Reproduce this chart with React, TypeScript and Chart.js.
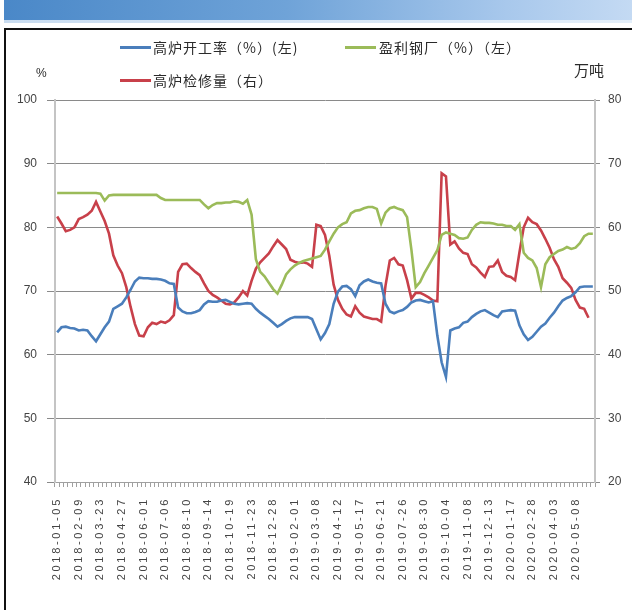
import React, { useEffect, useRef } from "react";
import { Chart, registerables } from "chart.js";

Chart.register(...registerables);

const dates: string[] = [
  "2018-01-05","2018-01-12","2018-01-19","2018-01-26","2018-02-02","2018-02-09","2018-02-23","2018-03-02","2018-03-09","2018-03-16",
  "2018-03-23","2018-03-30","2018-04-06","2018-04-13","2018-04-20","2018-04-27","2018-05-04","2018-05-11","2018-05-18","2018-05-25",
  "2018-06-01","2018-06-08","2018-06-15","2018-06-22","2018-06-29","2018-07-06","2018-07-13","2018-07-20","2018-07-27","2018-08-03",
  "2018-08-10","2018-08-17","2018-08-24","2018-08-31","2018-09-07","2018-09-14","2018-09-21","2018-09-28","2018-10-05","2018-10-12",
  "2018-10-19","2018-10-26","2018-11-02","2018-11-09","2018-11-16","2018-11-23","2018-11-30","2018-12-07","2018-12-14","2018-12-21",
  "2018-12-28","2019-01-04","2019-01-11","2019-01-18","2019-01-25","2019-02-01","2019-02-08","2019-02-15","2019-02-22","2019-03-01",
  "2019-03-08","2019-03-15","2019-03-22","2019-03-29","2019-04-05","2019-04-12","2019-04-19","2019-04-26","2019-05-03","2019-05-10",
  "2019-05-17","2019-05-24","2019-05-31","2019-06-07","2019-06-14","2019-06-21","2019-06-28","2019-07-05","2019-07-12","2019-07-19",
  "2019-07-26","2019-08-02","2019-08-09","2019-08-16","2019-08-23","2019-08-30","2019-09-06","2019-09-13","2019-09-20","2019-09-27",
  "2019-10-04","2019-10-11","2019-10-18","2019-10-25","2019-11-01","2019-11-08","2019-11-15","2019-11-22","2019-11-29","2019-12-06",
  "2019-12-13","2019-12-20","2019-12-27","2020-01-03","2020-01-10","2020-01-17","2020-01-31","2020-02-07","2020-02-14","2020-02-21",
  "2020-02-28","2020-03-06","2020-03-13","2020-03-20","2020-03-27","2020-04-03","2020-04-10","2020-04-17","2020-04-24","2020-05-01",
  "2020-05-08","2020-05-15","2020-05-22","2020-05-29","2020-06-05"
];

// 高炉开工率（%）(左)
const blastRate: (number | null)[] = [
  63.5,64.3,64.4,64.2,64.1,63.8,63.9,63.8,62.9,62.1,
  63.2,64.3,65.2,67.2,67.6,68.0,69.0,70.2,71.5,72.1,
  72.0,72.0,71.9,71.9,71.8,71.6,71.2,71.1,67.4,66.8,
  66.5,66.5,66.7,67.0,67.9,68.4,68.3,68.3,68.5,68.6,
  68.3,68.0,67.9,68.0,68.1,68.0,67.2,66.6,66.1,65.6,
  65.0,64.4,64.8,65.3,65.7,65.9,65.9,65.9,65.9,65.6,
  64.0,62.4,63.4,64.8,68.0,69.9,70.7,70.8,70.3,69.2,
  70.9,71.5,71.8,71.5,71.3,71.2,68.0,66.8,66.5,66.8,
  67.0,67.5,68.2,68.5,68.6,68.4,68.2,68.4,63.0,58.8,
  56.5,63.8,64.1,64.3,65.0,65.2,65.9,66.4,66.8,67.0,
  66.6,66.2,65.9,66.8,66.9,67.0,66.9,64.6,63.2,62.3,
  62.8,63.6,64.4,64.9,65.8,66.6,67.6,68.5,68.9,69.2,
  69.8,70.6,70.7,70.7,70.7
];

// 盈利钢厂（%）（左）
const profitMills: (number | null)[] = [
  85.4,85.4,85.4,85.4,85.4,85.4,85.4,85.4,85.4,85.4,
  85.3,84.2,85.0,85.1,85.1,85.1,85.1,85.1,85.1,85.1,
  85.1,85.1,85.1,85.1,84.6,84.3,84.3,84.3,84.3,84.3,
  84.3,84.3,84.3,84.3,83.6,83.0,83.5,83.8,83.8,83.9,
  83.9,84.1,84.0,83.7,84.3,82.0,75.0,73.0,72.3,71.3,
  70.3,69.6,71.0,72.6,73.4,74.0,74.4,74.7,74.9,75.1,
  75.3,75.5,76.5,77.8,79.0,80.0,80.5,80.8,82.2,82.6,
  82.7,83.0,83.2,83.2,82.9,80.6,82.3,83.0,83.2,82.9,
  82.7,81.6,76.5,70.6,71.4,72.8,74.0,75.2,76.4,78.8,
  79.2,79.0,78.8,78.3,78.2,78.4,79.6,80.4,80.8,80.7,
  80.7,80.6,80.4,80.4,80.2,80.2,79.6,80.5,76.0,75.2,
  74.8,73.6,70.6,74.2,75.3,75.8,76.3,76.5,76.9,76.6,
  76.8,77.5,78.6,79.0,79.0
];

// 高炉检修量（右），万吨
const maintenance: (number | null)[] = [
  61.7,60.6,59.4,59.6,60.0,61.3,61.6,62.0,62.6,64.0,
  62.5,61.0,59.0,55.6,54.0,52.8,50.6,47.5,44.8,43.0,
  42.9,44.3,45.0,44.8,45.2,45.0,45.4,46.2,53.0,54.2,
  54.3,53.6,53.0,52.5,51.2,50.0,49.4,49.0,48.5,48.0,
  47.9,48.2,49.0,50.0,49.3,51.6,53.5,54.5,55.2,55.9,
  57.0,58.0,57.3,56.6,54.9,54.6,54.4,54.5,54.3,53.8,
  60.4,60.2,58.8,55.5,51.0,48.6,47.2,46.3,46.0,47.6,
  46.6,46.0,45.8,45.6,45.6,45.2,50.8,54.8,55.2,54.2,
  54.0,51.7,48.8,49.7,49.7,49.4,49.0,48.5,48.4,68.5,
  68.0,57.3,57.8,56.7,56.0,55.8,54.2,53.7,52.9,52.2,
  53.8,53.9,54.8,53.0,52.4,52.2,51.7,56.0,60.0,61.5,
  60.8,60.5,59.5,58.2,56.8,55.0,53.8,52.0,51.3,50.5,
  48.6,47.4,47.2,45.8,null
];

const leftTicks = [40, 50, 60, 70, 80, 90, 100];
const rightTicks = [20, 30, 40, 50, 60, 70, 80];

const seriesNames = ["高炉开工率（%）(左)", "盈利钢厂（%）（左）", "高炉检修量（右）"];
const seriesColors = ["#4a7ebb", "#9bbb59", "#c8404a"];

const xLabelSpacing = {
  id: "xLabelSpacing",
  beforeDraw(chart: any) {
    const s: any = chart.scales.x;
    if (s && !s.__patched) {
      const orig = s.drawLabels;
      s.drawLabels = function (area: any) {
        const ctx = this.ctx;
        ctx.save();
        (ctx as any).letterSpacing = "2.7px";
        orig.call(this, area);
        ctx.restore();
      };
      s.__patched = true;
    }
  },
};

export default function App() {
  const ref = useRef<HTMLCanvasElement | null>(null);

  useEffect(() => {
    if (!ref.current) return;
    const chart = new Chart(ref.current, {
      type: "line",
      data: {
        labels: dates,
        datasets: [
          {
            label: seriesNames[0],
            data: blastRate,
            borderColor: seriesColors[0],
            backgroundColor: seriesColors[0],
            borderWidth: 2.6,
            pointRadius: 0,
            yAxisID: "y",
          },
          {
            label: seriesNames[1],
            data: profitMills,
            borderColor: seriesColors[1],
            backgroundColor: seriesColors[1],
            borderWidth: 2.6,
            pointRadius: 0,
            yAxisID: "y",
          },
          {
            label: seriesNames[2],
            data: maintenance,
            borderColor: seriesColors[2],
            backgroundColor: seriesColors[2],
            borderWidth: 2.6,
            pointRadius: 0,
            yAxisID: "y1",
          },
        ],
      },
      options: {
        animation: false,
        responsive: false,
        maintainAspectRatio: false,
        layout: { padding: { top: 100, left: 0, right: 0, bottom: 0 } },
        plugins: { legend: { display: false }, tooltip: { enabled: false } },
        scales: {
          x: {
            type: "category",
            offset: true,
            grid: {
              display: true,
              offset: true,
              drawOnChartArea: false,
              tickLength: 5,
              color: "#a0a0a0",
            },
            border: { display: true, color: "#a0a0a0", width: 1 },
            ticks: {
              autoSkip: false,
              maxRotation: 90,
              minRotation: 90,
              padding: 10,
              color: "#444",
              font: { size: 11, family: "'Liberation Sans', Arial, sans-serif" },
              callback: (_v: any, i: number) => (i % 5 === 0 ? dates[i] : ""),
            },
            afterFit: (s: any) => {
              s.height = 128;
            },
          },
          y: {
            position: "left",
            min: 40,
            max: 100,
            afterBuildTicks: (s: any) => {
              s.ticks = leftTicks.map((v) => ({ value: v }));
            },
            grid: { color: "#8a8a8a", lineWidth: 1, tickLength: 8 },
            border: { display: true, color: "#c4c4c4", width: 2 },
            ticks: {
              padding: 10,
              color: "#444",
              font: { size: 12, family: "'Liberation Sans', Arial, sans-serif" },
            },
            afterFit: (s: any) => {
              s.width = 55;
            },
          },
          y1: {
            position: "right",
            min: 20,
            max: 80,
            afterBuildTicks: (s: any) => {
              s.ticks = rightTicks.map((v) => ({ value: v }));
            },
            grid: { drawOnChartArea: false, color: "#8a8a8a", tickLength: 5 },
            border: { display: true, color: "#c4c4c4", width: 2 },
            ticks: {
              padding: 8,
              color: "#444",
              font: { size: 12, family: "'Liberation Sans', Arial, sans-serif" },
            },
            afterFit: (s: any) => {
              s.width = 37;
            },
          },
        },
      },
      plugins: [xLabelSpacing],
    });
    return () => chart.destroy();
  }, []);

  const cjk = "'Noto Sans CJK SC', 'Noto Sans', sans-serif";
  const legendText: React.CSSProperties = {
    position: "absolute",
    fontFamily: cjk,
    fontSize: 14,
    letterSpacing: 1,
    color: "#2a2a2a",
    lineHeight: "18px",
    whiteSpace: "nowrap",
  };

  return (
    <div
      style={{
        position: "fixed",
        left: 0,
        top: 0,
        width: 632,
        height: 610,
        overflow: "hidden",
        background: "#fff",
      }}
    >
      <div
        style={{
          position: "absolute",
          left: 4,
          top: 0,
          width: 628,
          height: 20,
          background: "linear-gradient(to right, #4a88c8 0%, #6fa3d8 45%, #a8c8ec 80%, #c4daf3 100%)",
        }}
      />
      <div
        style={{
          position: "absolute",
          left: 4,
          top: 20,
          width: 628,
          height: 3,
          background: "linear-gradient(to right, #c9dcf0, #e3eef9)",
        }}
      />
      <div
        style={{
          position: "absolute",
          left: 4,
          top: 28,
          width: 700,
          height: 700,
          borderTop: "2px solid #111",
          borderLeft: "2px solid #111",
        }}
      />
      <canvas
        ref={ref}
        width={632}
        height={610}
        style={{ position: "absolute", left: 0, top: 0, width: 632, height: 610 }}
      />
      <div style={{ position: "absolute", left: 120, top: 46, width: 31, height: 3, background: seriesColors[0] }} />
      <div style={{ ...legendText, left: 153, top: 38 }}>{seriesNames[0]}</div>
      <div style={{ position: "absolute", left: 345, top: 46, width: 31, height: 3, background: seriesColors[1] }} />
      <div style={{ ...legendText, left: 379, top: 38 }}>{seriesNames[1]}</div>
      <div style={{ position: "absolute", left: 120, top: 79, width: 31, height: 3, background: seriesColors[2] }} />
      <div style={{ ...legendText, left: 153, top: 71 }}>{seriesNames[2]}</div>
      <div
        style={{
          position: "absolute",
          left: 36,
          top: 66,
          fontFamily: "'Liberation Sans', Arial, sans-serif",
          fontSize: 12,
          color: "#2a2a2a",
        }}
      >
        %
      </div>
      <div
        style={{
          position: "absolute",
          left: 574,
          top: 59,
          fontFamily: cjk,
          fontSize: 15,
          color: "#2a2a2a",
          whiteSpace: "nowrap",
        }}
      >
        万吨
      </div>
    </div>
  );
}
